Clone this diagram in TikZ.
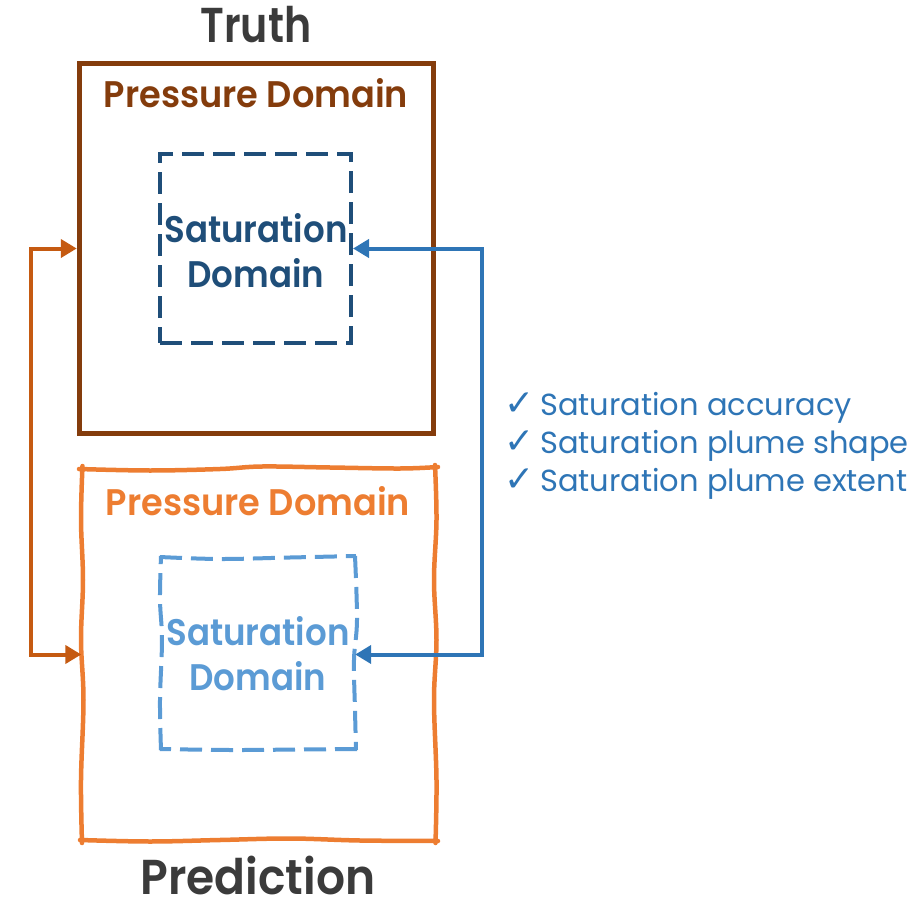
\documentclass[tikz,border=0pt]{standalone}
\usepackage{graphicx}
\usepackage{fontspec}
\setmainfont{Poppins}[BoldFont={Poppins SemiBold}]
\newfontfamily\symfont{DejaVu Sans}
\usetikzlibrary{arrows.meta}
\newcommand\hsq[2]{\scalebox{#1}[1]{#2}}
\definecolor{titlegray}{HTML}{3B3B3B}
\definecolor{brownc}{HTML}{843C0C}
\definecolor{darkblue}{HTML}{1F4E79}
\definecolor{orangec}{HTML}{ED7D31}
\definecolor{lightblue}{HTML}{5B9BD5}
\definecolor{arrorange}{HTML}{C55A11}
\definecolor{arrblue}{HTML}{2E75B6}
\tikzset{
  titletext/.style={font=\bfseries\fontsize{49}{56}\selectfont, text=titlegray, inner sep=0pt, anchor=base},
  domtext/.style={font=\bfseries\fontsize{37}{44}\selectfont, inner sep=0pt, anchor=base},
  satbox/.style={minimum width=191pt, minimum height=189pt, inner sep=0pt},
  outerbox/.style={minimum width=354pt, minimum height=370pt, inner sep=0pt},
  linkarrow/.style={line width=4pt, {Triangle[length=16pt,width=18pt]}-{Triangle[length=16pt,width=18pt]}},
  checktext/.style={font=\fontsize{30.5}{34}\selectfont, text=arrblue, anchor=base west, inner sep=0pt},
  checkmark/.style={font=\symfont\fontsize{36}{38}\selectfont, text=arrblue, anchor=base west, inner sep=0pt}
}
\begin{document}
\begin{tikzpicture}[x=1pt,y=-1pt]
\useasboundingbox (0,0) rectangle (922,899);
% Truth
\node[titletext] (truth) at (256,43) {\hsq{0.84}{Truth}};
\node[outerbox, draw=brownc, line width=5.5pt] (tbox) at (256.5,248.5) {};
\node[domtext, text=brownc] (tpress) at (256,108) {\hsq{0.95}{Pressure Domain}};
\node[satbox, draw=darkblue, line width=4pt, dash pattern=on 22pt off 9pt] (tsat) at (255.5,248.5) {};
\node[domtext, text=darkblue] (tsat1) at (256,242) {\hsq{0.92}{Saturation}};
\node[domtext, text=darkblue] (tsat2) at (256,287) {\hsq{0.92}{Domain}};
% Prediction
\node[outerbox] (pbox) at (258.5,654.5) {};
\draw[orangec, line width=4.5pt, line cap=round]
  plot[smooth, tension=0.6] coordinates {(79,469) (150,470.5) (220,469) (262,466.5) (330,467.5) (400,468.5) (438,467)}
  plot[smooth, tension=0.6] coordinates {(435,465) (436.5,520) (434,580) (436.5,640) (434,700) (436.5,780) (435.5,843)}
  plot[smooth, tension=0.6] coordinates {(438,841) (360,840.5) (290,838.5) (220,840) (150,841.5) (80,840)}
  plot[smooth, tension=0.6] coordinates {(82,843) (81,780) (83.5,700) (81,640) (83,580) (81,520) (82.5,466)};
\node[domtext, text=orangec] (ppress) at (258,515) {\hsq{0.95}{Pressure Domain}};
\node[satbox, minimum width=193pt, minimum height=190pt] (psat) at (258.5,653) {};
\draw[lightblue, line width=4pt, dash pattern=on 22pt off 9pt]
  plot[smooth, tension=0.6] coordinates {(160,557) (220,559) (290,557.5) (356,556)}
  plot[smooth, tension=0.6] coordinates {(355,556) (357,620) (354,660) (355,710) (356,750)}
  plot[smooth, tension=0.6] coordinates {(357,749) (300,749.5) (230,750) (160,749)}
  plot[smooth, tension=0.6] coordinates {(161,750) (160,700) (162,640) (160,600) (161,556)};
\node[domtext, text=lightblue] (psat1) at (258,645) {\hsq{0.92}{Saturation}};
\node[domtext, text=lightblue] (psat2) at (258,690) {\hsq{0.92}{Domain}};
\node[titletext] (pred) at (258,894) {\hsq{0.93}{Prediction}};
% connectors
\coordinate (l1) at (31,248.5);
\coordinate (l2) at (31,654.5);
\draw[linkarrow, arrorange] (tbox.west) -- (l1) -- (l2) -- (pbox.west);
\coordinate (r1) at (482,248.5);
\coordinate (r2) at (482,654.5);
\draw[linkarrow, arrblue] (tsat.east) -- (r1) -- (r2) -- (psat.east |- r2);
% checklist
\node[checkmark] (k1) at (504,415) {✓};
\node[checkmark] (k2) at (504,453) {✓};
\node[checkmark] (k3) at (504,491) {✓};
\node[checktext] (c1) at (540,415) {Saturation accuracy};
\node[checktext] (c2) at (540,453) {Saturation plume shape};
\node[checktext] (c3) at (540,491) {Saturation plume extent};
\end{tikzpicture}
\end{document}
